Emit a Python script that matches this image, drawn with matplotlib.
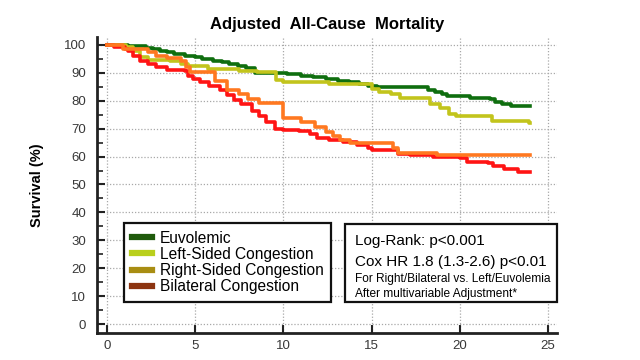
import matplotlib
matplotlib.use("Agg")
import matplotlib.pyplot as plt
from matplotlib.lines import Line2D
from matplotlib.patches import Rectangle

plt.rcParams['font.family'] = ['Liberation Sans', 'DejaVu Sans']

title = "Adjusted  All-Cause  Mortality"
ylabel = "Survival (%)"
labels = ["Euvolemic", "Left-Sided Congestion", "Right-Sided Congestion", "Bilateral Congestion"]

t_eu = [0, 1.2, 2.2, 2.6, 3.0, 3.4, 3.8, 4.4, 5.0, 5.4, 6.0, 6.5, 6.9, 7.4, 7.9, 8.4,
        10.2, 11.0, 11.7, 12.4, 13.1, 13.7, 14.3, 14.8, 15.3, 18.2, 18.6, 19.0, 19.3,
        20.6, 21.7, 22.0, 22.4, 22.9, 24.0]
s_eu = [100, 99.6, 99, 98.5, 97.9, 97.3, 96.7, 96.2, 95.6, 95.0, 94.3, 93.7, 93.1, 92.4,
        91.6, 90.0, 89.5, 89.0, 88.5, 87.8, 87.2, 86.6, 86.0, 85.4, 84.8, 84.0, 83.1,
        82.3, 81.6, 81.0, 80.7, 79.6, 78.7, 78.2, 78.2]

t_left = [0, 1.1, 1.5, 1.9, 2.3, 3.6, 4.2, 4.6, 5.7, 7.5, 8.5, 9.6, 10.0, 12.6, 15.0,
          15.4, 16.1, 16.6, 18.3, 18.9, 19.4, 19.8, 21.8, 23.9, 24.0]
s_left = [100, 99.4, 97.9, 95.5, 94.6, 94.2, 93.1, 92.5, 91.4, 90.8, 90.2, 87.4, 86.8,
          86.0, 84.2, 83.0, 82.4, 80.8, 78.7, 77.5, 75.3, 74.4, 72.9, 72.0, 72.0]

t_right = [0, 0.9, 2.3, 2.8, 3.4, 4.2, 4.5, 4.7, 6.1, 6.8, 7.5, 8.0, 8.6, 10.0, 11.0,
           11.8, 12.4, 12.8, 13.2, 13.8, 16.2, 16.5, 18.7, 24.0]
s_right = [100, 98.7, 97.3, 96.0, 95.2, 94.4, 92.0, 90.4, 87.2, 83.8, 82.4, 80.6, 79.2,
           73.9, 72.3, 70.6, 68.8, 67.2, 66.0, 65.0, 63.0, 61.2, 60.6, 60.6]

t_bi = [0, 0.4, 1.0, 1.2, 1.5, 1.9, 2.3, 2.8, 3.4, 4.4, 4.6, 4.9, 5.3, 5.8, 6.4, 6.8,
        7.2, 7.6, 8.2, 8.6, 9.0, 9.5, 10.0, 10.9, 11.5, 11.9, 12.6, 13.4, 14.2, 14.8,
        15.0, 16.5, 17.2, 18.5, 20.0, 20.4, 21.6, 21.9, 22.5, 23.3, 24.0]
s_bi = [100, 99.4, 98.7, 97.9, 96.1, 94.3, 93.1, 92.0, 91.1, 90.8, 89.0, 87.8, 86.6,
        85.4, 83.7, 81.9, 80.1, 78.8, 76.5, 74.7, 72.4, 70.0, 69.6, 69.0, 68.2, 66.8,
        66.0, 65.2, 64.2, 63.0, 62.4, 61.0, 60.4, 59.8, 59.4, 58.2, 57.6, 56.6, 55.4,
        54.6, 54.6]

line_colors = ["#0f6e0f", "#c2c41c", "#ff7820", "#ff1414"]
legend_colors = ["#1f5a0c", "#b9cf1c", "#a88d12", "#8c3410"]

xticks = [0, 5, 10, 15, 20, 25]
yticks = [0, 10, 20, 30, 40, 50, 60, 70, 80, 90, 100]

stats1 = "Log-Rank: p<0.001"
stats2 = "Cox HR 1.8 (1.3-2.6) p<0.01"
stats3 = "For Right/Bilateral vs. Left/Euvolemia"
stats4 = "After multivariable Adjustment*"

fig = plt.figure(figsize=(6.4, 3.6), dpi=100)
ax = fig.add_axes([0.152, 0.075, 0.718, 0.822])

ax.step(t_eu, s_eu, where='post', color=line_colors[0], lw=2.6, zorder=3)
ax.step(t_left, s_left, where='post', color=line_colors[1], lw=2.6, zorder=3)
ax.step(t_bi, s_bi, where='post', color=line_colors[3], lw=2.6, zorder=3)
ax.step(t_right, s_right, where='post', color=line_colors[2], lw=2.6, zorder=3)

ax.set_xlim(-0.55, 25.5)
ax.set_ylim(-3.2, 102.8)
ax.set_xticks(xticks)
ax.set_yticks(yticks)
ax.set_yticks([5 + 10 * i for i in range(10)], minor=True)
ax.grid(True, which='major', linestyle=(0, (1, 1.5)), color='#a8a8a8', lw=0.9)
ax.tick_params(which='major', direction='in', length=6, width=1.5, labelsize=9.5,
               labelcolor='#383838', color='#222222')
ax.tick_params(axis='y', which='major', pad=8)
ax.tick_params(axis='x', which='major', pad=5)
ax.tick_params(which='minor', direction='in', length=4, width=1.2, color='#222222')
for sp in ['top', 'right']:
    ax.spines[sp].set_visible(False)
for sp in ['left', 'bottom']:
    ax.spines[sp].set_linewidth(2)
    ax.spines[sp].set_color('#222222')

ax.set_title(title, fontsize=12, fontweight='bold', pad=6)
ax.set_ylabel(ylabel, fontsize=10.5, fontweight='bold')
ax.yaxis.set_label_coords(-0.115, 0.5)

handles = [Line2D([0], [0], color=c, lw=4.5) for c in legend_colors]
leg = ax.legend(handles, labels, loc='upper left', bbox_to_anchor=(0.95, 36.2),
                bbox_transform=ax.transData, borderaxespad=0, fontsize=11.2,
                frameon=True, fancybox=False, edgecolor='#111111', framealpha=1,
                handlelength=1.3, handletextpad=0.5, labelspacing=0.07,
                borderpad=0.5)
leg.get_frame().set_linewidth(1.6)
leg.set_zorder(5)

ax.add_patch(Rectangle((13.5, 7.8), 12.0, 28.2, facecolor='white', edgecolor='#111111',
                       lw=1.6, zorder=5, clip_on=False))
ax.text(14.05, 29.6, stats1, fontsize=11, va='center', ha='left', zorder=6)
ax.text(14.05, 22.4, stats2, fontsize=11, va='center', ha='left', zorder=6)
ax.text(14.05, 16.0, stats3, fontsize=8.6, va='center', ha='left', zorder=6,
        family=['Liberation Sans Narrow', 'Liberation Sans', 'DejaVu Sans'])
ax.text(14.05, 10.8, stats4, fontsize=8.6, va='center', ha='left', zorder=6,
        family=['Liberation Sans Narrow', 'Liberation Sans', 'DejaVu Sans'])

fig.savefig("out.png", dpi=100)
